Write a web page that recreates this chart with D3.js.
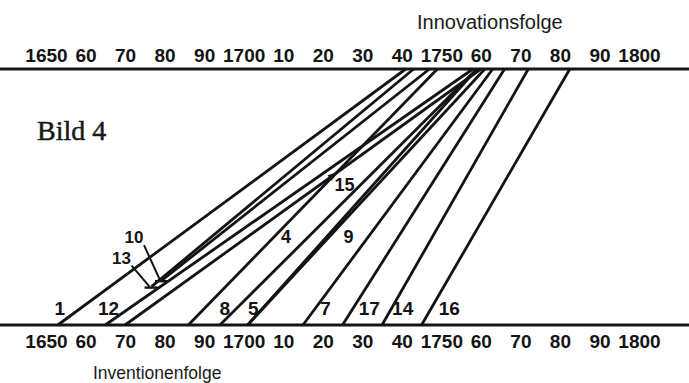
<!DOCTYPE html>
<html>
<head>
<meta charset="utf-8">
<script src="https://cdn.jsdelivr.net/npm/d3@7"></script>
<style>
body { margin: 0; background: #fff; }
svg { display: block; }
.tick text { font-family: "Liberation Sans", Arial, sans-serif; font-weight: bold; font-size: 19px; fill: #141414; }
.idlabel { font-family: "Liberation Sans", Arial, sans-serif; font-weight: bold; fill: #141414; }
</style>
</head>
<body>
<div id="chart"></div>
<script>
// tick labels of both axes
var tickYears = [1650,1660,1670,1680,1690,1700,1710,1720,1730,1740,1750,1760,1770,1780,1790,1800];
var tickLabels = ["1650","60","70","80","90","1700","10","20","30","40","1750","60","70","80","90","1800"];

// one line per innovation: invention year (bottom) -> innovation year (top)
var lineIds         = ["1",  "12", "13", "10", "15", "4",  "8",  "5",  "9",  "7",  "17", "14", "16"];
var inventionYears  = [1653, 1665, 1665, 1665, 1670, 1686, 1694, 1701, 1701, 1715, 1725, 1735, 1745];
var innovationYears = [1741, 1758, 1743, 1747, 1760, 1749, 1759, 1761, 1759, 1763, 1766, 1772, 1782.5];
// share of the line left undrawn at the bottom (13 and 10 start inside the bundle)
var hiddenShare     = [0,    0,    0.15, 0.175, 0,   0,    0,    0,    0,    0,    0,    0,    0];

var w = 689, h = 383;
var yTop = 69, yBottom = 325;

var svg = d3.select("#chart").append("svg").attr("width", w).attr("height", h);

var x = d3.scaleLinear().domain([1650, 1800]).range([46, 639]);
var level = d3.scaleLinear().domain([0, 1]).range([yBottom, yTop]);

var lines = lineIds.map(function(id, i){
    return {id: id, from: inventionYears[i], to: innovationYears[i], hide: hiddenShare[i]};
});

function pointAt(d, t){
    return [x(d.from) + t * (x(d.to) - x(d.from)), level(t)];
}

// axis rules over full width
[yTop, yBottom].forEach(function(yy){
    svg.append("line").attr("x1", 0).attr("x2", w).attr("y1", yy).attr("y2", yy)
        .attr("stroke", "#151515").attr("stroke-width", 3);
});

var topAxis = d3.axisTop(x).tickValues(tickYears)
    .tickFormat(function(d, i){ return tickLabels[i]; })
    .tickSize(0).tickPadding(7);
var bottomAxis = d3.axisBottom(x).tickValues(tickYears)
    .tickFormat(function(d, i){ return tickLabels[i]; })
    .tickSize(0).tickPadding(10);

svg.append("g").attr("transform", "translate(0," + yTop + ")").call(topAxis)
    .call(function(g){ g.select(".domain").remove(); });
svg.append("g").attr("transform", "translate(0," + yBottom + ")").call(bottomAxis)
    .call(function(g){ g.select(".domain").remove(); });

// the innovation lines
svg.append("g").selectAll("line")
    .data(lines)
    .enter()
    .append("line")
    .attr("x1", function(d){ return pointAt(d, d.hide)[0]; })
    .attr("y1", function(d){ return pointAt(d, d.hide)[1]; })
    .attr("x2", function(d){ return pointAt(d, 1)[0]; })
    .attr("y2", function(d){ return pointAt(d, 1)[1]; })
    .attr("stroke", "#141414")
    .attr("stroke-width", 2.8);

// label placement: [share along line, dx, dy, font size]
var labelPlace = {
    "1":  [0.066, -21, 0, 19], "12": [0.066, -21, 0, 19], "8":  [0.066, -12, 0, 19],
    "5":  [0.066, -10, 0, 19], "7":  [0.066, 10, 0, 19],  "17": [0.066, 16, 0, 19],
    "14": [0.066, 11, 0, 19],  "16": [0.066, 18, 0, 19],
    "13": [0.15, -30, -29, 17], "10": [0.175, -28, -43, 17],
    "4":  [0.344, 12, 0, 18],  "15": [0.586, 11, 10, 18], "9": [0.344, 22, 0, 18]
};

svg.append("g").selectAll("text")
    .data(lines)
    .enter()
    .append("text")
    .attr("class", "idlabel")
    .attr("x", function(d){ var p = labelPlace[d.id]; return pointAt(d, p[0])[0] + p[1]; })
    .attr("y", function(d){ var p = labelPlace[d.id]; return pointAt(d, p[0])[1] + p[2]; })
    .attr("dy", "0.36em")
    .attr("text-anchor", "middle")
    .attr("font-size", function(d){ return labelPlace[d.id][3]; })
    .text(function(d){ return d.id; });

// leaders for 13 and 10 pointing to where those lines begin
lines.filter(function(d){ return d.hide > 0; }).forEach(function(d){
    var p = labelPlace[d.id];
    var s = pointAt(d, d.hide);
    svg.append("line")
        .attr("x1", s[0] + p[1] + 10).attr("y1", s[1] + p[2] + 8)
        .attr("x2", s[0] - 2).attr("y2", s[1])
        .attr("stroke", "#141414").attr("stroke-width", 2);
    svg.append("line")
        .attr("x1", s[0] - 7).attr("y1", s[1] + 1)
        .attr("x2", s[0] + 6).attr("y2", s[1] + 1)
        .attr("stroke", "#141414").attr("stroke-width", 2.4);
});

// small arrow head at 15
var l15 = lines.filter(function(d){ return d.id == "15"; })[0];
var a0 = pointAt(l15, 0.586), a1 = pointAt(l15, 0.62);
var ang = Math.atan2(a1[1] - a0[1], a1[0] - a0[0]);
svg.append("path")
    .attr("d", "M0,-3.5L10,0L0,3.5Z")
    .attr("transform", "translate(" + (a0[0] - 4) + "," + (a0[1] + 3) + ") rotate(" + (ang * 180 / Math.PI) + ")")
    .attr("fill", "#141414");

// titles
svg.append("text").attr("x", 417).attr("y", 29)
    .attr("font-family", "Liberation Sans, Arial, sans-serif").attr("font-size", 20)
    .attr("fill", "#1a1a1a").text("Innovationsfolge");
svg.append("text").attr("x", 93).attr("y", 379)
    .attr("font-family", "Liberation Sans, Arial, sans-serif").attr("font-size", 17.5)
    .attr("fill", "#1a1a1a").text("Inventionenfolge");
svg.append("text").attr("x", 37).attr("y", 140)
    .attr("font-family", "Liberation Serif, Times New Roman, serif").attr("font-size", 28)
    .attr("fill", "#1a1a1a").attr("stroke", "#1a1a1a").attr("stroke-width", 0.5)
    .text("Bild 4");
</script>
</body>
</html>
